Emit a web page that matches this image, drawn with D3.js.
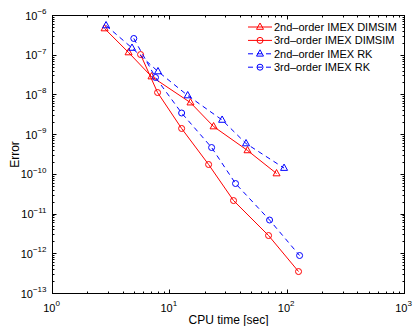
<!DOCTYPE html>
<html>
<head>
<meta charset="utf-8">
<script src="https://cdn.jsdelivr.net/npm/d3@7"></script>
<style>
body { margin: 0; background: #fff; }
svg text { font-family: "Liberation Sans", Arial, Helvetica, sans-serif; fill: #000; }
</style>
</head>
<body>
<svg id="chart"></svg>
<script>
// values
const cpuDimsim2 = [2.78, 4.45, 6.98, 15.0, 23.6, 45.9, 81.2];
const errDimsim2 = [4.7e-7, 1.17e-7, 2.9e-8, 6.4e-9, 1.6e-9, 4.0e-10, 1.05e-10];
const cpuDimsim3 = [5.63, 7.86, 12.6, 21.4, 34.9, 69.4, 125];
const errDimsim3 = [1.04e-7, 1.15e-8, 1.43e-9, 1.77e-10, 2.19e-11, 2.88e-12, 3.57e-13];
const cpuRk2 = [2.86, 4.76, 7.93, 14.2, 27.9, 44.6, 94.1];
const errRk2 = [5.6e-7, 1.52e-7, 3.89e-8, 9.67e-9, 2.34e-9, 5.98e-10, 1.44e-10];
const cpuRk3 = [4.93, 7.55, 12.6, 22.7, 36.3, 70.8, 127.6];
const errRk3 = [2.64e-7, 2.75e-8, 3.51e-9, 4.74e-10, 5.88e-11, 7.08e-12, 9.04e-13];

const seriesNames = ["2nd\u2013order IMEX DIMSIM", "3rd\u2013order IMEX DIMSIM", "2nd\u2013order IMEX RK", "3rd\u2013order IMEX RK"];
const xTickExps = [0, 1, 2, 3];
const yTickExps = [-13, -12, -11, -10, -9, -8, -7, -6];
const xTitle = "CPU time [sec]";
const yTitle = "Error";

let series = [
    {x: cpuDimsim2, y: errDimsim2, color: "#ff0000", marker: "tri", dash: null},
    {x: cpuDimsim3, y: errDimsim3, color: "#ff0000", marker: "circ", dash: null},
    {x: cpuRk2, y: errRk2, color: "#0000ff", marker: "tri", dash: "5,4"},
    {x: cpuRk3, y: errRk3, color: "#0000ff", marker: "circ", dash: "5,4"}
];

let svg = d3.select("#chart").attr("width", 413).attr("height", 326);

let margin = {top: 15, right: 9, bottom: 33, left: 52},
    width = 413 - margin.left - margin.right,
    height = 326 - margin.top - margin.bottom,
    g = svg.append("g").attr("transform", "translate(" + (margin.left + 0.5) + "," + (margin.top + 0.5) + ")");

let x = d3.scaleLog().domain([1, 1000]).range([0, width]);
let y = d3.scaleLog().domain([1e-13, 1e-6]).range([height, 0]);

// minor + major ticks, pointing inward on all four sides
let xMinor = [], yMinor = [];
for (let e = 0; e < 3; e++) for (let m = 2; m <= 9; m++) xMinor.push(m * Math.pow(10, e));
for (let e = -13; e < -6; e++) for (let m = 2; m <= 9; m++) yMinor.push(m * Math.pow(10, e));

let ticks = g.append("g").attr("stroke", "#000").attr("stroke-width", 1);
function tickLines(vals, len) {
    vals.forEach(v => {
        let px = Math.round(x(v));
        ticks.append("line").attr("x1", px).attr("x2", px).attr("y1", height).attr("y2", height - len);
        ticks.append("line").attr("x1", px).attr("x2", px).attr("y1", 0).attr("y2", len);
    });
}
function tickLinesY(vals, len) {
    vals.forEach(v => {
        let py = Math.round(y(v));
        ticks.append("line").attr("y1", py).attr("y2", py).attr("x1", 0).attr("x2", len);
        ticks.append("line").attr("y1", py).attr("y2", py).attr("x1", width).attr("x2", width - len);
    });
}
tickLines(xMinor, 2);
tickLines(xTickExps.map(e => Math.pow(10, e)), 4);
tickLinesY(yMinor, 2);
tickLinesY(yTickExps.map(e => Math.pow(10, e)), 4);

g.append("rect")
    .attr("width", width)
    .attr("height", height)
    .attr("fill", "none")
    .attr("stroke", "#000")
    .attr("stroke-width", 1);

// tick labels as 10^n
xTickExps.forEach(e => {
    let t = g.append("text")
        .attr("x", x(Math.pow(10, e)) - 1)
        .attr("y", height + 18)
        .attr("text-anchor", "middle")
        .attr("font-size", 11);
    t.append("tspan").text("10");
    t.append("tspan").attr("font-size", 8).attr("dy", -5.5).text(e < 0 ? "\u2212" + (-e) : e);
});
yTickExps.forEach(e => {
    let t = g.append("text")
        .attr("x", -6)
        .attr("y", y(Math.pow(10, e)) + 4)
        .attr("text-anchor", "end")
        .attr("font-size", 11);
    t.append("tspan").text("10");
    t.append("tspan").attr("font-size", 8).attr("dy", -5.5).text(e < 0 ? "\u2212" + (-e) : e);
});

g.append("text")
    .attr("x", width / 2)
    .attr("y", height + 30)
    .attr("text-anchor", "middle")
    .attr("font-size", 12)
    .text(xTitle);

g.append("text")
    .attr("transform", "translate(" + (-34) + "," + (height / 2) + ") rotate(-90)")
    .attr("text-anchor", "middle")
    .attr("font-size", 12)
    .text(yTitle);

let line = d3.line()
    .x(d => x(d[0]))
    .y(d => y(d[1]));

function drawMarker(sel, kind, color, cx, cy) {
    if (kind == "tri") {
        sel.append("path")
            .attr("d", "M" + cx + "," + (cy - 4) + "L" + (cx + 3.5) + "," + (cy + 2.3) + "L" + (cx - 3.5) + "," + (cy + 2.3) + "Z")
            .attr("fill", "none")
            .attr("stroke", color)
            .attr("stroke-width", 1);
    } else {
        sel.append("circle")
            .attr("cx", cx).attr("cy", cy).attr("r", 3)
            .attr("fill", "none")
            .attr("stroke", color)
            .attr("stroke-width", 1);
    }
}

for (let s of series) {
    let pts = s.x.map((v, i) => [v, s.y[i]]);
    g.append("path")
        .datum(pts)
        .attr("fill", "none")
        .attr("stroke", s.color)
        .attr("stroke-width", 1)
        .attr("stroke-dasharray", s.dash)
        .attr("d", line);
    pts.forEach(p => drawMarker(g, s.marker, s.color, x(p[0]), y(p[1])));
}

// legend, no box
let legend = svg.append("g");
series.forEach((s, i) => {
    let ly = 27 + i * 13.4;
    legend.append("line")
        .attr("x1", 248).attr("x2", 272)
        .attr("y1", ly).attr("y2", ly)
        .attr("stroke", s.color)
        .attr("stroke-width", 1)
        .attr("stroke-dasharray", s.dash);
    drawMarker(legend, s.marker, s.color, 260, ly);
    legend.append("text")
        .attr("x", 274)
        .attr("y", ly + 4)
        .attr("font-size", 11)
        .text(seriesNames[i]);
});
</script>
</body>
</html>
